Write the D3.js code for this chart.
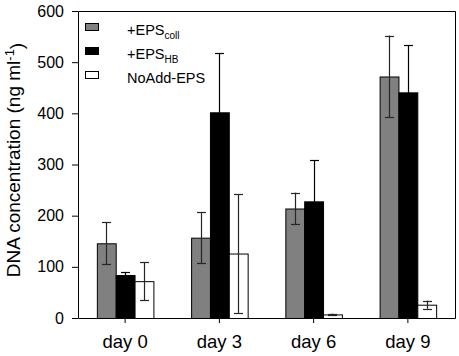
<!DOCTYPE html>
<html>
<head>
<meta charset="utf-8">
<script src="https://cdn.jsdelivr.net/npm/d3@7"></script>
<style>
  body { margin: 0; background: #fff; }
  text { font-family: "Liberation Sans", Arial, sans-serif; fill: #000; }
</style>
</head>
<body>
<div id="chart"></div>
<script>
// Data
var days = ['day 0', 'day 3', 'day 6', 'day 9'];
var seriesKeys = ['coll', 'HB', 'noadd'];
var collValues = [146, 157, 214, 472];
var collErrors = [41, 50, 31, 80];
var hbValues = [84, 402, 228, 441];
var hbErrors = [6, 116, 80, 92];
var noaddValues = [72, 126, 7, 26];
var noaddErrors = [37, 116, 1.5, 8];
var yTickValues = [0, 100, 200, 300, 400, 500, 600];

var width = 459, height = 356,
    margin = {top: 11, right: 4, bottom: 38, left: 78},
    plotW = width - margin.left - margin.right,
    plotH = height - margin.top - margin.bottom;

var fills = {coll: '#808080', HB: '#000000', noadd: '#ffffff'};
var errColors = {coll: '#262626', HB: '#000000', noadd: '#262626'};
var values = {coll: collValues, HB: hbValues, noadd: noaddValues};
var errors = {coll: collErrors, HB: hbErrors, noadd: noaddErrors};

var svg = d3.select('#chart').append('svg')
    .attr('width', width)
    .attr('height', height);

var g = svg.append('g')
    .attr('transform', 'translate(' + margin.left + ',' + margin.top + ')');

var x0 = d3.scaleBand().domain(days).range([0, plotW]).padding(0);
var x1 = d3.scaleBand().domain(seriesKeys)
    .range([x0.bandwidth() * 0.2, x0.bandwidth() * 0.8]).padding(0);
var y = d3.scaleLinear().domain([0, 600]).range([plotH, 0]);

// bars
seriesKeys.forEach(function (key) {
    var rows = days.map(function (d, i) {
        return {day: d, value: values[key][i], err: errors[key][i]};
    });
    g.selectAll('rect.bar-' + key)
        .data(rows)
        .enter()
        .append('rect')
        .attr('class', 'bar-' + key)
        .attr('x', function (d) { return x0(d.day) + x1(key) + 0.5; })
        .attr('y', function (d) { return y(d.value) + 0.5; })
        .attr('width', x1.bandwidth())
        .attr('height', function (d) { return plotH - y(d.value); })
        .style('fill', fills[key])
        .style('stroke', '#000')
        .style('stroke-width', 1);
});

// error bars
var capW = 9;
seriesKeys.forEach(function (key) {
    var rows = days.map(function (d, i) {
        return {day: d, value: values[key][i], err: errors[key][i]};
    });
    var eb = g.selectAll('g.err-' + key)
        .data(rows)
        .enter()
        .append('g')
        .attr('class', 'err-' + key)
        .style('stroke', errColors[key])
        .style('stroke-width', 1.2);
    var cx = function (d) { return Math.round(x0(d.day) + x1(key) + x1.bandwidth() / 2) + 0.5; };
    eb.append('line')
        .attr('x1', cx).attr('x2', cx)
        .attr('y1', function (d) { return y(d.value + d.err); })
        .attr('y2', function (d) { return y(Math.max(0, d.value - d.err)); });
    eb.append('line')
        .attr('x1', function (d) { return cx(d) - capW / 2; })
        .attr('x2', function (d) { return cx(d) + capW / 2; })
        .attr('y1', function (d) { return Math.round(y(d.value + d.err)) + 0.5; })
        .attr('y2', function (d) { return Math.round(y(d.value + d.err)) + 0.5; });
    eb.append('line')
        .attr('x1', function (d) { return cx(d) - capW / 2; })
        .attr('x2', function (d) { return cx(d) + capW / 2; })
        .attr('y1', function (d) { return Math.round(y(Math.max(0, d.value - d.err))) + 0.5; })
        .attr('y2', function (d) { return Math.round(y(Math.max(0, d.value - d.err))) + 0.5; });
});

// frame (top and right)
g.append('path')
    .attr('d', 'M0.5,0.5H' + (plotW + 0.5) + 'V' + (plotH + 0.5))
    .style('fill', 'none')
    .style('stroke', '#000')
    .style('stroke-width', 1);

// axes
var yAxis = d3.axisLeft(y).tickValues(yTickValues).tickSize(6).tickPadding(8);
var xAxis = d3.axisBottom(x0).tickSize(5).tickSizeOuter(0);

var gy = g.append('g').attr('class', 'y axis').call(yAxis);
gy.selectAll('text').style('font-size', '16px');
gy.select('.domain').attr('d', 'M0.5,' + (plotH + 0.5) + 'V0.5');

var gx = g.append('g').attr('class', 'x axis')
    .attr('transform', 'translate(0,' + plotH + ')')
    .call(xAxis);
gx.selectAll('text')
    .style('font-size', '18.5px')
    .attr('y', 30)
    .attr('dy', 0);

g.selectAll('.axis path, .axis line').style('stroke', '#000');

// y axis title
var title = svg.append('text')
    .attr('transform', 'translate(20,160) rotate(-90)')
    .attr('text-anchor', 'middle')
    .style('font-size', '19px');
title.append('tspan').text('DNA concentration (ng ml');
title.append('tspan').attr('dy', '-0.45em').style('font-size', '13px').text('-1');
title.append('tspan').attr('dy', '0.45em').text(')');

// legend
var legendRows = [
    {key: 'coll', main: '+EPS', sub: 'coll', y: 35},
    {key: 'HB', main: '+EPS', sub: 'HB', y: 59},
    {key: 'noadd', main: 'NoAdd-EPS', sub: '', y: 83}
];
var lg = svg.selectAll('g.legend')
    .data(legendRows)
    .enter()
    .append('g')
    .attr('class', 'legend');
lg.append('rect')
    .attr('x', 85.5)
    .attr('y', function (d) { return d.y - 11.5; })
    .attr('width', 13)
    .attr('height', 7)
    .style('fill', function (d) { return fills[d.key]; })
    .style('stroke', '#000');
var lt = lg.append('text')
    .attr('x', 127)
    .attr('y', function (d) { return d.y; })
    .style('font-size', '14.5px');
lt.append('tspan').text(function (d) { return d.main; });
lt.append('tspan')
    .attr('dy', 4)
    .style('font-size', '10px')
    .text(function (d) { return d.sub; });
</script>
</body>
</html>
